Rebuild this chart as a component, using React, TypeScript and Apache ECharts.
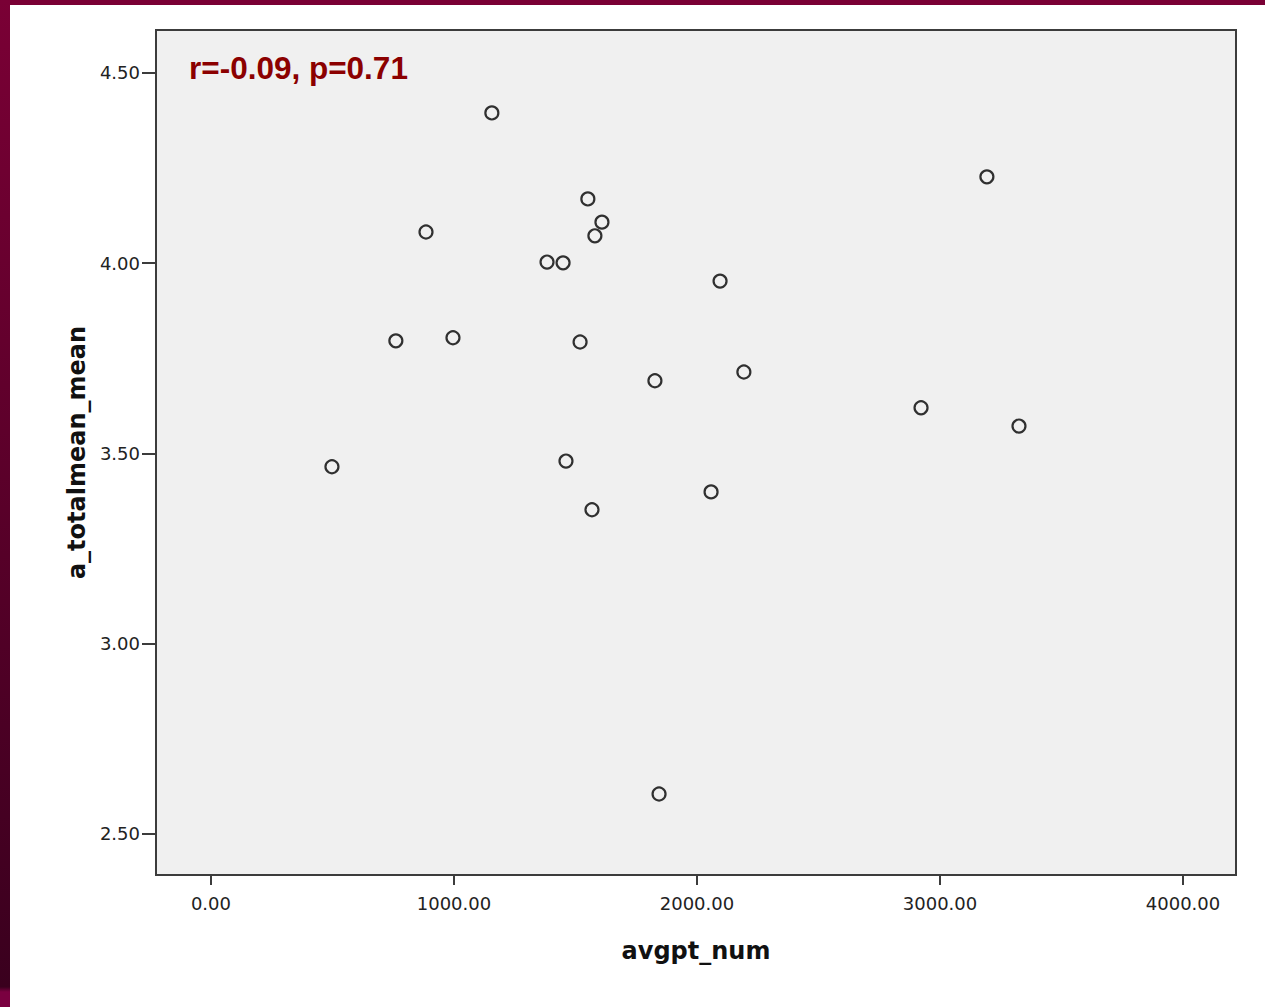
import React, { useEffect, useRef } from "react";
import * as echarts from "echarts";

const xValues = [498, 761, 885, 996, 1156, 1383, 1449, 1461, 1519, 1551, 1568, 1580, 1609, 1827, 1844, 2058, 2095, 2193, 2922, 3193, 3325];
const yValues = [3.465, 3.796, 4.082, 3.804, 4.395, 4.003, 4.001, 3.48, 3.793, 4.169, 3.352, 4.072, 4.108, 3.691, 2.605, 3.399, 3.953, 3.714, 3.62, 4.227, 3.572];
const xTicks = [0, 1000, 2000, 3000, 4000];
const yTicks = [2.5, 3.0, 3.5, 4.0, 4.5];
const titleText = "r=-0.09, p=0.71";
const xName = "avgpt_num";
const yName = "a_totalmean_mean";

export default function App() {
  const ref = useRef<HTMLDivElement>(null);
  useEffect(() => {
    if (!ref.current) return;
    const chart = echarts.init(ref.current, undefined, { renderer: "svg" });
    const data = xValues.map((x, i) => [x, yValues[i]]);
    chart.setOption({
      animation: false,
      backgroundColor: "#ffffff",
      title: {
        text: titleText,
        left: 189,
        top: 52,
        padding: 0,
        textStyle: {
          fontFamily: "Liberation Sans",
          fontWeight: "bold",
          fontSize: 31.5,
          color: "#8b0000",
        },
      },
      graphic: [
        { type: "rect", left: 0, top: 0, shape: { width: 1265, height: 5 }, style: { fill: "#7a0035" }, z: 100 },
        {
          type: "rect",
          left: 0,
          top: 0,
          shape: { width: 10, height: 1007 },
          style: {
            fill: new echarts.graphic.LinearGradient(0, 0, 0, 1, [
              { offset: 0, color: "#7a0035" },
              { offset: 0.98, color: "#3a001e" },
              { offset: 0.985, color: "#7a0040" },
              { offset: 1, color: "#7a0040" },
            ]),
          },
          z: 100,
        },
      ],
      grid: {
        left: 156,
        top: 30,
        width: 1080,
        height: 845,
        show: true,
        backgroundColor: "#f0f0f0",
        borderColor: "#3c3c3c",
        borderWidth: 2,
      },
      xAxis: {
        type: "value",
        min: -226,
        max: 4218,
        name: xName,
        nameLocation: "middle",
        nameGap: 64,
        nameTextStyle: { fontFamily: "DejaVu Sans", fontWeight: "bold", fontSize: 24, color: "#111" },
        axisLine: { show: false, onZero: false },
        splitLine: { show: false },
        axisTick: { show: true, length: 10, customValues: xTicks, lineStyle: { color: "#3c3c3c", width: 2 } },
        axisLabel: {
          customValues: xTicks,
          formatter: (v: number) => v.toFixed(2),
          fontFamily: "DejaVu Sans",
          fontSize: 18,
          color: "#222",
          margin: 19,
        },
      },
      yAxis: {
        type: "value",
        min: 2.392,
        max: 4.613,
        name: yName,
        nameLocation: "middle",
        nameGap: 66,
        nameTextStyle: { fontFamily: "DejaVu Sans", fontWeight: "bold", fontSize: 24, color: "#111" },
        axisLine: { show: false, onZero: false },
        splitLine: { show: false },
        axisTick: { show: true, length: 14, customValues: yTicks, lineStyle: { color: "#3c3c3c", width: 2 } },
        axisLabel: {
          customValues: yTicks,
          formatter: (v: number) => v.toFixed(2),
          fontFamily: "DejaVu Sans",
          fontSize: 18,
          color: "#222",
          margin: 16,
        },
      },
      series: [
        {
          type: "scatter",
          data,
          symbol: "circle",
          symbolSize: 13,
          itemStyle: { color: "rgba(0,0,0,0)", borderColor: "#000", borderWidth: 2.2 },
        },
      ],
    });
    return () => chart.dispose();
  }, []);
  return (
    <div
      ref={ref}
      style={{ position: "absolute", left: 0, top: 0, width: 1265, height: 1007 }}
    />
  );
}
